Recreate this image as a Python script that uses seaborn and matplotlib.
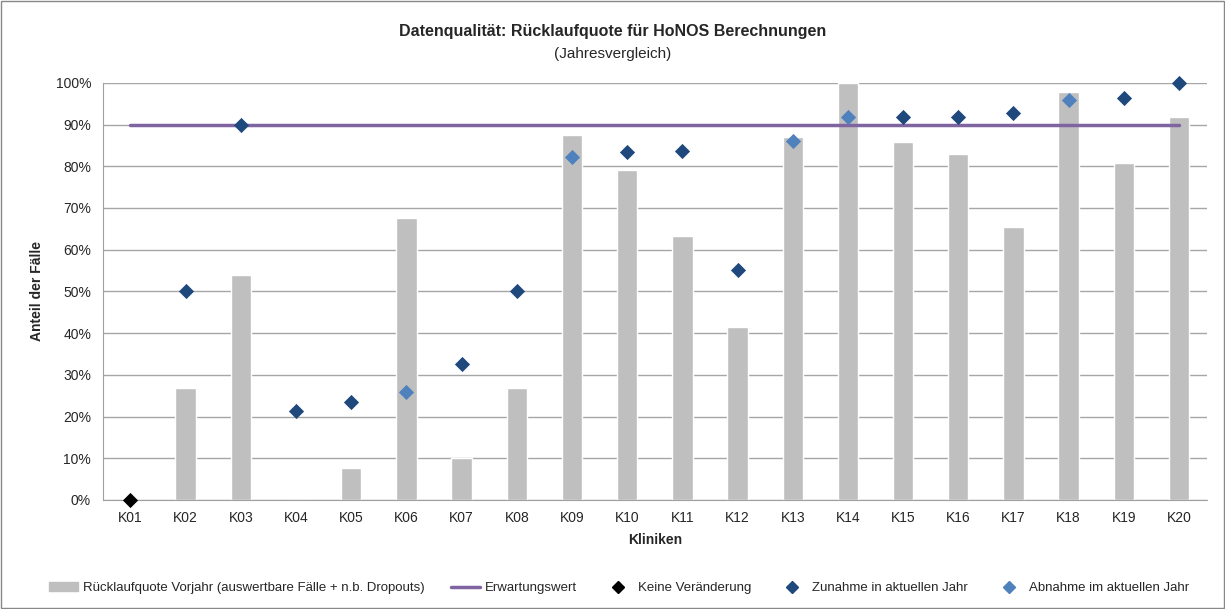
import matplotlib.pyplot as plt
import matplotlib.lines as mlines
import matplotlib.patches as mpatches
import numpy as np
import pandas as pd
import seaborn as sns

kliniken = [f"K{i:02d}" for i in range(1, 21)]
vorjahr = [0, 26.8, 54.0, 0, 7.7, 67.7, 10.0, 26.8, 87.6, 79.1,
           63.4, 41.5, 86.9, 100.0, 85.8, 82.9, 65.4, 97.8, 80.7, 91.8]
aktuell = [0, 50.0, 90.0, 21.3, 23.4, 26.0, 32.5, 50.0, 82.2, 83.5,
           83.7, 55.1, 86.0, 91.8, 91.8, 91.9, 92.7, 95.8, 96.3, 100.0]
# 0 = keine Veränderung, 1 = Zunahme, -1 = Abnahme
trend = [0, 1, 1, 1, 1, -1, 1, 1, -1, 1,
         1, 1, -1, -1, 1, 1, 1, -1, 1, 1]
erwartung = 90.0

sns.set_style("white")
plt.rcParams['font.family'] = ['Liberation Sans', 'DejaVu Sans']

df = pd.DataFrame({"Klinik": kliniken, "Vorjahr": np.array(vorjahr) / 100,
                   "Aktuell": np.array(aktuell) / 100, "Trend": trend})

fig = plt.figure(figsize=(12.25, 6.09), dpi=100)
ax = fig.add_axes([0.084, 0.179, 0.901, 0.685])

bar_col = "#BFBFBF"
line_col = "#8064A2"
dark_col = "#1F497D"
light_col = "#4F81BD"

sns.barplot(data=df, x="Klinik", y="Vorjahr", color=bar_col, width=0.37,
            saturation=1, ax=ax, zorder=2)
ax.plot([0, len(kliniken) - 1], [erwartung / 100] * 2, color=line_col, lw=2.5, zorder=3)

colors = {0: "black", 1: dark_col, -1: light_col}
for t, c in colors.items():
    sub = df[df["Trend"] == t]
    ax.scatter(sub.index, sub["Aktuell"], marker="D", s=60, color=c,
               zorder=4, clip_on=False, linewidths=0)

ax.set_xlim(-0.5, len(kliniken) - 0.5)
ax.set_ylim(0, 1)
ax.set_yticks(np.arange(0, 1.01, 0.1))
ax.set_yticklabels([f"{int(v)}%" for v in np.arange(0, 101, 10)], fontsize=10)
ax.tick_params(axis="x", length=0, labelsize=10, pad=8)
ax.set_xticks(np.arange(-0.5, len(kliniken)), minor=True)
ax.tick_params(axis="x", which="minor", length=5, color="#A0A0A0")
ax.tick_params(axis="y", length=5, color="#A0A0A0", direction="out")
ax.yaxis.grid(True, color="#A6A6A6", lw=1)
ax.set_axisbelow(True)
for s in ["top", "right"]:
    ax.spines[s].set_visible(False)
for s in ["left", "bottom"]:
    ax.spines[s].set_color("#A0A0A0")

ax.set_xlabel("Kliniken", fontsize=10, fontweight="bold", labelpad=6)
ax.set_ylabel("Anteil der Fälle", fontsize=10, fontweight="bold", labelpad=8)

fig.text(0.5, 0.948, "Datenqualität: Rücklaufquote für HoNOS Berechnungen",
         ha="center", va="center", fontsize=11.5, fontweight="bold")
fig.text(0.5, 0.912, "(Jahresvergleich)", ha="center", va="center", fontsize=11)

handles = [
    mpatches.Patch(color=bar_col, label="Rücklaufquote Vorjahr (auswertbare Fälle + n.b. Dropouts)"),
    mlines.Line2D([], [], color=line_col, lw=2.5, label="Erwartungswert"),
    mlines.Line2D([], [], color="black", marker="D", ls="", ms=6, label="Keine Veränderung"),
    mlines.Line2D([], [], color=dark_col, marker="D", ls="", ms=6, label="Zunahme in aktuellen Jahr"),
    mlines.Line2D([], [], color=light_col, marker="D", ls="", ms=6, label="Abnahme im aktuellen Jahr"),
]
fig.legend(handles=handles, loc="center", bbox_to_anchor=(0.505, 0.034), ncol=5,
           frameon=False, fontsize=9.5, handlelength=2.2, columnspacing=2.0,
           handletextpad=0.4)

fig.patches.append(mpatches.Rectangle((0.001, 0.001), 0.998, 0.998, transform=fig.transFigure,
                                      fill=False, edgecolor="#888888", lw=1))

fig.savefig("out.png", dpi=100)
